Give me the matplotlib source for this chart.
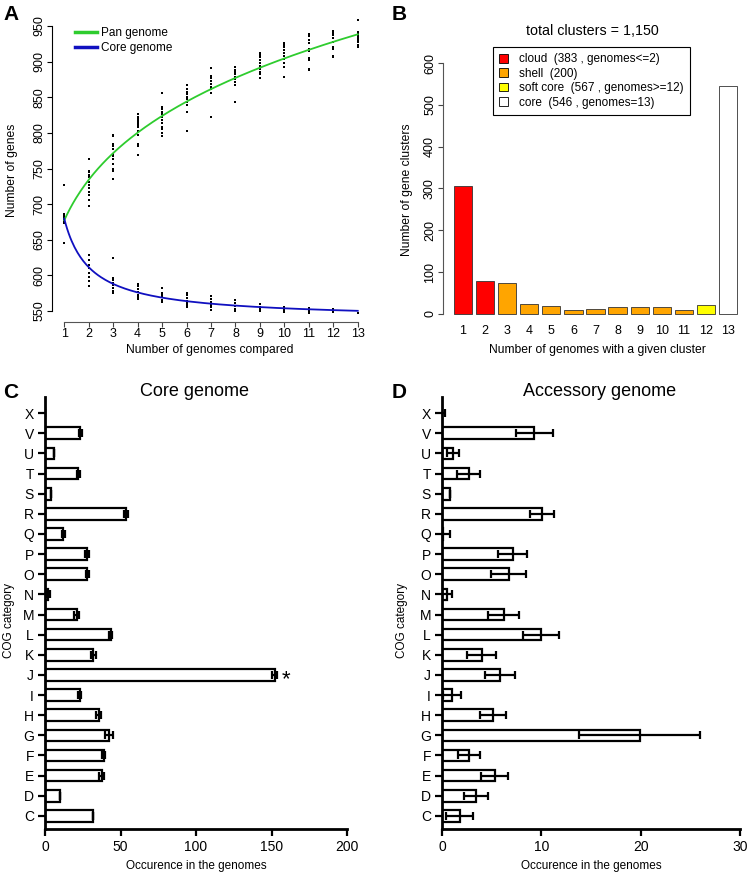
import matplotlib
matplotlib.use("Agg")
import matplotlib.pyplot as plt
from matplotlib.patches import Patch
from matplotlib.lines import Line2D
import numpy as np

plt.rcParams['font.family'] = ['Liberation Sans', 'DejaVu Sans']

# ---- panel A: gene counts per number of genomes compared
n_genomes = list(range(1, 14))
pan_points = [
    [727, 686, 684, 682, 680, 679, 678, 677, 676, 675, 674, 646],
    [763, 747, 745, 741, 738, 731, 727, 722, 717, 713, 706, 698],
    [797, 795, 785, 781, 778, 771, 767, 763, 757, 750, 746, 736],
    [826, 823, 820, 817, 814, 811, 808, 802, 797, 785, 781, 769],
    [856, 836, 833, 829, 826, 822, 818, 814, 809, 805, 800, 796],
    [867, 862, 858, 855, 851, 847, 843, 839, 830, 803],
    [891, 880, 877, 873, 869, 865, 861, 856, 823],
    [893, 889, 886, 882, 879, 875, 871, 867, 844],
    [912, 909, 906, 902, 898, 894, 890, 886, 882, 877],
    [926, 923, 920, 916, 912, 908, 904, 898, 893, 878],
    [939, 936, 931, 926, 918, 915, 905, 902, 890, 888],
    [943, 940, 937, 933, 928, 921, 918, 908, 906],
    [958, 942, 939, 936, 933, 930, 927, 924, 921],
]
core_points = [
    [727, 686, 684, 682, 680, 679, 678, 677, 676, 675, 674, 646],
    [629, 621, 615, 610, 604, 598, 592, 585],
    [624, 596, 593, 590, 586, 582, 578, 575],
    [588, 585, 581, 577, 573, 569, 567],
    [583, 576, 572, 569, 566, 563],
    [576, 572, 568, 564, 561, 559, 556],
    [571, 567, 563, 559, 555, 552],
    [565, 561, 557, 553, 550],
    [560, 556, 553, 550],
    [556, 553, 551, 549],
    [554, 551, 549, 547],
    [553, 550, 548],
    [547],
]

# ---- panel B: cluster frequency spectrum
cluster_counts = [305, 78, 74, 25, 19, 9, 12, 17, 17, 17, 10, 21, 546]
cluster_colors = ['red', 'red'] + ['orange'] * 9 + ['yellow', 'white']
legend_labels = ['cloud  (383 , genomes<=2)', 'shell  (200)',
                 'soft core  (567 , genomes>=12)', 'core  (546 , genomes=13)']
legend_colors = ['red', 'orange', 'yellow', 'white']

# ---- panels C/D: COG categories
cog = ['C', 'D', 'E', 'F', 'G', 'H', 'I', 'J', 'K', 'L', 'M',
       'N', 'O', 'P', 'Q', 'R', 'S', 'T', 'U', 'V', 'X']
core_cog = [32, 10, 37.5, 39, 42.5, 35.5, 23, 152, 32, 43.5, 21,
            2, 28, 28, 12, 53.5, 4, 22, 6, 23.5, 0]
core_err = [0, 0, 1.5, 1, 2.5, 1.5, 1, 1.5, 1.5, 0.8, 1.5,
            1.5, 1, 1.2, 1, 1.5, 0, 1, 0, 1.2, 0]
acc_cog = [1.8, 3.4, 5.3, 2.75, 19.9, 5.1, 1.0, 5.8, 4.0, 10.0, 6.2,
           0.5, 6.7, 7.1, 0.1, 10.1, 0.85, 2.7, 1.1, 9.3, 0]
acc_err = [1.35, 1.2, 1.35, 1.1, 6.1, 1.3, 0.9, 1.5, 1.45, 1.8, 1.6,
           0.55, 1.75, 1.45, 0.7, 1.2, 0, 1.15, 0.6, 1.85, 0.3]

W, H = 750, 872
fig = plt.figure(figsize=(W / 100, H / 100), dpi=100)


def box(l, t, r, b):
    return [l / W, 1 - b / H, (r - l) / W, (b - t) / H]


def ftext(x, y, s, **kw):
    fig.text(x / W, 1 - y / H, s, **kw)


def fit_power(x, y, exps):
    # y = a + b * x**g, best g from a grid, a and b by least squares
    best = None
    for g in exps:
        A = np.column_stack([np.ones_like(x), x ** g])
        coef = np.linalg.lstsq(A, y, rcond=None)[0]
        err = np.sum((A @ coef - y) ** 2)
        if best is None or err < best[0]:
            best = (err, g, coef)
    return lambda t: best[2][0] + best[2][1] * t ** best[1]


# ================= A
ax = fig.add_axes(box(52, 17.5, 370, 322))
px, py, cx, cy = [], [], [], []
for n, vals in zip(n_genomes, pan_points):
    px += [n] * len(vals)
    py += vals
for n, vals in zip(n_genomes, core_points):
    cx += [n] * len(vals)
    cy += vals
px, py, cx, cy = map(lambda a: np.array(a, float), (px, py, cx, cy))
ax.plot(px, py, 's', color='black', ms=1.6, mew=0)
ax.plot(cx, cy, 's', color='black', ms=1.6, mew=0)
t = np.linspace(1, 13, 200)
pan_f = fit_power(px, py, np.linspace(0.05, 1.0, 400))
core_f = fit_power(cx, cy, np.linspace(-3.0, -0.05, 600))
ax.plot(t, pan_f(t), color='#2ecc2e', lw=1.3)
ax.plot(t, core_f(t), color='#1010c0', lw=1.3)
ax.set_xlim(0.5, 13.5)
ax.set_ylim(534.6, 962)
ax.set_xticks(n_genomes)
ax.set_yticks(range(550, 951, 50))
ax.tick_params(labelsize=9, length=3.5, width=0.8, color='#444444', pad=0.5)
ax.tick_params(axis='y', pad=1.5, color='black')
for lab in ax.get_yticklabels():
    lab.set_rotation(90)
    lab.set_va('center')
for s in ['top', 'right']:
    ax.spines[s].set_visible(False)
ax.spines['bottom'].set_bounds(1, 13)
ax.spines['left'].set_bounds(550, 950)
ax.spines['bottom'].set_color('#555555')
ax.spines['left'].set_color('black')
for s in ['bottom', 'left']:
    ax.spines[s].set_linewidth(0.8)
ax.legend(handles=[Line2D([], [], color='#2ecc2e', lw=2.5, label='Pan genome'),
                   Line2D([], [], color='#1010c0', lw=2.5, label='Core genome')],
          loc='upper left', bbox_to_anchor=(75 / W, 1 - 27 / H),
          bbox_transform=fig.transFigure, frameon=False, fontsize=8.5,
          handlelength=1.9, handletextpad=0.3, labelspacing=0.25,
          borderaxespad=0, borderpad=0)
ftext(210, 350, 'Number of genomes compared', ha='center', va='center', fontsize=8.7)
ftext(12, 170, 'Number of genes', ha='center', va='center', rotation=90, fontsize=8.7)
ftext(3, 15, 'A', ha='left', va='center', fontsize=15, fontweight='bold')

# ================= B
ax = fig.add_axes(box(443, 53, 748, 324))
ax.bar(n_genomes, cluster_counts, width=0.83, color=cluster_colors,
       edgecolor='#333333', linewidth=0.6)
ax.set_xlim(0.1, 13.9)
ax.set_ylim(-24, 624)
ax.set_xticks(n_genomes)
ax.set_yticks(range(0, 601, 100))
ax.tick_params(axis='x', length=0, labelsize=9, pad=0.5)
ax.tick_params(axis='y', labelsize=9, length=3.5, width=0.8, color='#444444', pad=1.5)
for lab in ax.get_yticklabels():
    lab.set_rotation(90)
    lab.set_va('center')
for s in ['top', 'right', 'bottom']:
    ax.spines[s].set_visible(False)
ax.spines['left'].set_bounds(0, 600)
ax.spines['left'].set_color('#555555')
ax.spines['left'].set_linewidth(0.8)
handles = [Patch(facecolor=c, edgecolor='black', linewidth=0.6, label=l)
           for c, l in zip(legend_colors, legend_labels)]
leg = ax.legend(handles=handles, loc='upper left',
                bbox_to_anchor=(493 / W, 1 - 47 / H), bbox_transform=fig.transFigure,
                fontsize=8.5, fancybox=False, edgecolor='black', framealpha=1,
                handlelength=0.75, handleheight=0.75, handletextpad=0.9,
                labelspacing=0.2, borderpad=0.55, borderaxespad=0)
leg.get_frame().set_linewidth(0.8)
ftext(592, 31, 'total clusters = 1,150', ha='center', va='center', fontsize=10.3)
ftext(597, 350, 'Number of genomes with a given cluster', ha='center', va='center', fontsize=8.7)
ftext(407, 190, 'Number of gene clusters', ha='center', va='center', rotation=90, fontsize=8.7)
ftext(392, 15, 'B', ha='left', va='center', fontsize=15, fontweight='bold')


# ================= C / D
def cog_panel(l, r, vals, errs, xmax, step, title, tx, letter, lx, ylx):
    ax = fig.add_axes(box(l, 397, r, 829))
    ypos = np.arange(len(cog))
    ax.barh(ypos, vals, height=0.58, color='white', edgecolor='black', linewidth=1.6)
    ax.errorbar(vals, ypos, xerr=errs, fmt='none', ecolor='black',
                elinewidth=1.6, capsize=2.6, capthick=1.6)
    ax.set_xlim(0, xmax)
    ax.set_ylim(-0.65, 20.8)
    ax.set_yticks(ypos)
    ax.set_yticklabels(cog)
    ax.set_xticks(np.arange(0, xmax + 1, step))
    ax.tick_params(labelsize=10, length=5, width=1.6, pad=3)
    for s in ['top', 'right']:
        ax.spines[s].set_visible(False)
    for s in ['bottom', 'left']:
        ax.spines[s].set_linewidth(2)
    ftext(tx, 392, title, ha='center', va='center', fontsize=13)
    ftext((l + r) / 2, 866, 'Occurence in the genomes', ha='center', va='center', fontsize=8.5)
    ftext(ylx, 620, 'COG category', ha='center', va='center', rotation=90, fontsize=8.5)
    ftext(lx, 393, letter, ha='left', va='center', fontsize=15, fontweight='bold')
    return ax


axc = cog_panel(45, 347, core_cog, core_err, 200, 50, 'Core genome', 195, 'C', 3, 9)
j = cog.index('J')
axc.text(core_cog[j] + core_err[j] + 3, j - 0.25, '*', ha='left', va='center', fontsize=16)
cog_panel(442, 740, acc_cog, acc_err, 30, 10, 'Accessory genome', 600, 'D', 392, 402)

fig.savefig('out.png', dpi=100)
